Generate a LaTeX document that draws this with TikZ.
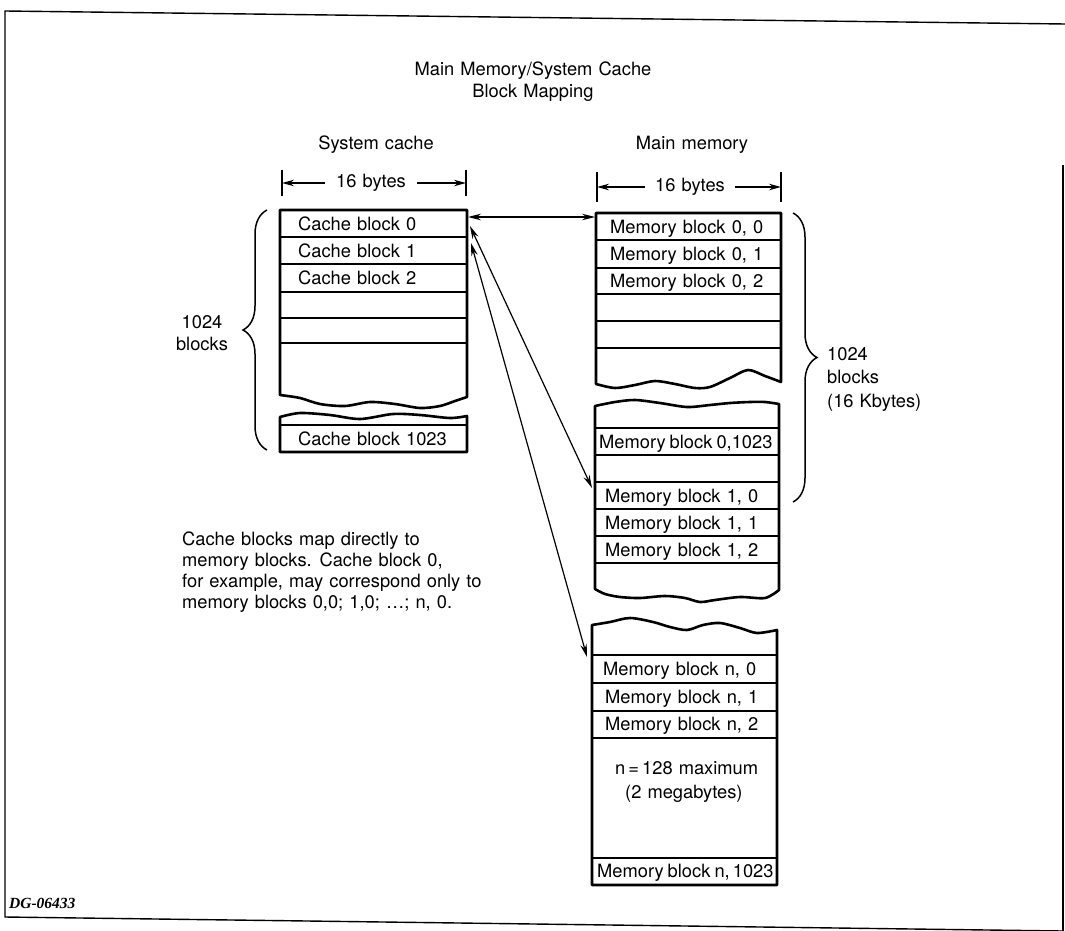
\documentclass[tikz,border=0pt]{standalone}
\usepackage{fontspec}
\setmainfont{TeX Gyre Heros}[WordSpace=1.2]
\newfontfamily\dgfont{Liberation Serif}
\usetikzlibrary{arrows.meta,decorations.pathreplacing}
\newcommand\myfs{\fontsize{18.3}{21}\selectfont}
\tikzset{
  frame/.style={line width=1.4pt},
  outer/.style={line width=2.6pt, line join=round},
  inner/.style={line width=1.6pt},
  txt/.style={inner sep=0pt, anchor=base west},
  map/.style={line width=1.2pt, {Stealth[length=13pt,width=6.5pt]}-{Stealth[length=13pt,width=6.5pt]}},
  dimarrow/.style={line width=1.3pt, -{Stealth[length=12pt,width=6.5pt]}},
  ticks/.style={line width=1.6pt},
  curly/.style={line width=1.5pt, decorate, decoration={brace, amplitude=24pt, aspect=0.5}},
}
\begin{document}
\begin{tikzpicture}[x=1pt, y=-1pt, font=\myfs]
\useasboundingbox (0,0) rectangle (1065,931);

% frame
\draw[frame] (1065,24) -- (5,11) -- (5,917) -- (1063,931);
\draw[frame] (1063,165) -- (1063,931);

% title
\node[anchor=north, align=center, inner sep=0pt, font={\fontsize{18.3}{22}\selectfont}] (title) at (533,61.5)
  {Main Memory/System Cache\\Block Mapping};

% column headings
\node[anchor=base, inner sep=0pt] (hcache) at (376,149.5) {System cache};
\node[anchor=base, inner sep=0pt] (hmem) at (692,149.5) {Main memory};

% dimension lines (cache)
\draw[ticks] (282,170) -- (282,196);
\draw[ticks] (466,170) -- (466,196);
\coordinate (ctl) at (282,183);
\coordinate (ctr) at (466,183);
\node[inner xsep=11pt, inner ysep=0pt] (cby) at (371,183) {16 bytes};
\draw[dimarrow] (cby.west) -- (ctl);
\draw[dimarrow] (cby.east) -- (ctr);

% dimension lines (memory)
\draw[ticks] (597,172) -- (597,202);
\draw[ticks] (781,172) -- (781,202);
\coordinate (mtl) at (597,187);
\coordinate (mtr) at (781,187);
\node[inner xsep=10pt, inner ysep=0pt] (mby) at (690,187) {16 bytes};
\draw[dimarrow] (mby.west) -- (mtl);
\draw[dimarrow] (mby.east) -- (mtr);

% ---------- system cache ----------
\draw[outer] plot[smooth] coordinates {(467,397) (455,401) (440,406) (420,408) (395,404) (370,402) (345,406) (320,404) (300,398) (280,395)}
  -- (280,210) -- (467,210) -- cycle;
\foreach \yy in {237,264,292,318,343} \draw[inner] (280,\yy) -- (467,\yy);
\draw[outer] plot[smooth] coordinates {(280,417) (300,413) (330,415) (360,419) (393,414) (420,415) (450,418) (467,416)}
  -- (467,452) -- (280,452) -- cycle;
\draw[inner] (280,425) -- (467,425);

\node[txt] (cb0) at (298,230) {Cache block 0};
\node[txt] (cb1) at (298,257) {Cache block 1};
\node[txt] (cb2) at (298,284.5) {Cache block 2};
\node[txt] (cbx) at (298,445) {Cache block 1023};

% left brace
\coordinate (lbb) at (267,450);
\coordinate (lbt) at (267,210);
\draw[curly] (lbb) -- (lbt);
\node[anchor=north, align=center, inner sep=0pt, font={\fontsize{18.3}{22}\selectfont}] (lbl) at (202,315) {1024\\blocks};

% ---------- main memory ----------
% piece 1
\draw[outer] plot[smooth] coordinates {(596,384) (615,388) (635,385) (655,381) (675,384) (695,388) (710,387) (730,378) (748,370) (765,376) (781,382)}
  -- (781,213) -- (596,213) -- cycle;
\foreach \yy in {240,268,294,321,348} \draw[inner] (596,\yy) -- (781,\yy);
\node[txt] (mb00) at (610,233) {Memory block 0, 0};
\node[txt] (mb01) at (610,260.5) {Memory block 0, 1};
\node[txt] (mb02) at (610,287.5) {Memory block 0, 2};

% piece 2
\draw[outer] plot[smooth] coordinates {(595,406) (615,402) (635,400) (660,403) (687,407) (710,405) (730,403) (750,402) (765,402) (779,404)}
  -- plot[smooth] coordinates {(779,590) (765,598) (740,597) (715,600) (700,602) (685,598) (665,596) (640,598) (620,597) (605,594) (595,589)}
  -- cycle;
\foreach \yy in {428,455,482,509,536,563} \draw[inner] (595,\yy) -- (779,\yy);
\node[txt] (mb0x) at (599,448) {Memory\hspace{4pt}block\hspace{4pt}0,1023};
\node[txt] (mb10) at (605,502) {Memory block 1, 0};
\node[txt] (mb11) at (605,529) {Memory block 1, 1};
\node[txt] (mb12) at (605,556) {Memory block 1, 2};

% piece 3
\draw[outer] plot[smooth] coordinates {(592,625) (610,622) (630,618) (653,622) (670,627) (687,630) (703,625) (720,623) (740,628) (757,633) (777,630)}
  -- (777,885) -- (592,885) -- cycle;
\foreach \yy in {655,683,711,738,858} \draw[inner] (592,\yy) -- (777,\yy);
\node[txt] (mbn0) at (603,675) {Memory block n, 0};
\node[txt] (mbn1) at (605,703.5) {Memory block n, 1};
\node[txt] (mbn2) at (605,730.5) {Memory block n, 2};
\node[txt] (nmax) at (615,774.5) {n\,=\,128 maximum};
\node[txt] (nmb) at (625,798.5) {(2 megabytes)};
\node[txt] (mbnx) at (597,877.5) {Memory\hspace{4pt}block\hspace{4pt}n,\,1023};

% right brace
\coordinate (rbt) at (793,213);
\coordinate (rbb) at (793,502);
\draw[curly] (rbt) -- (rbb);
\node[anchor=north west, align=left, inner sep=0pt, font={\fontsize{18.3}{23.5}\selectfont}] (rbl) at (827,347) {1024\\blocks\\(16 Kbytes)};

% mapping arrows
\coordinate (c0a) at (468,217);
\coordinate (c0b) at (470,226);
\coordinate (c0c) at (471,243);
\coordinate (m00) at (595,217);
\coordinate (m10) at (592,488);
\coordinate (mn0) at (587,657);
\draw[map] (c0a) -- (m00);
\draw[map] (c0b) -- (m10);
\draw[map] (c0c) -- (mn0);

% explanatory text
\node[anchor=north west, align=left, inner sep=0pt] (expl) at (182,532)
  {Cache blocks map directly to\\memory blocks. Cache block 0,\\for example, may correspond only to\\memory blocks 0,0; 1,0; \dots; n, 0.};

% figure id
\node[txt, font={\dgfont\bfseries\itshape\fontsize{15.5}{17}\selectfont}] (dg) at (9,908) {DG-06433};
\end{tikzpicture}
\end{document}
